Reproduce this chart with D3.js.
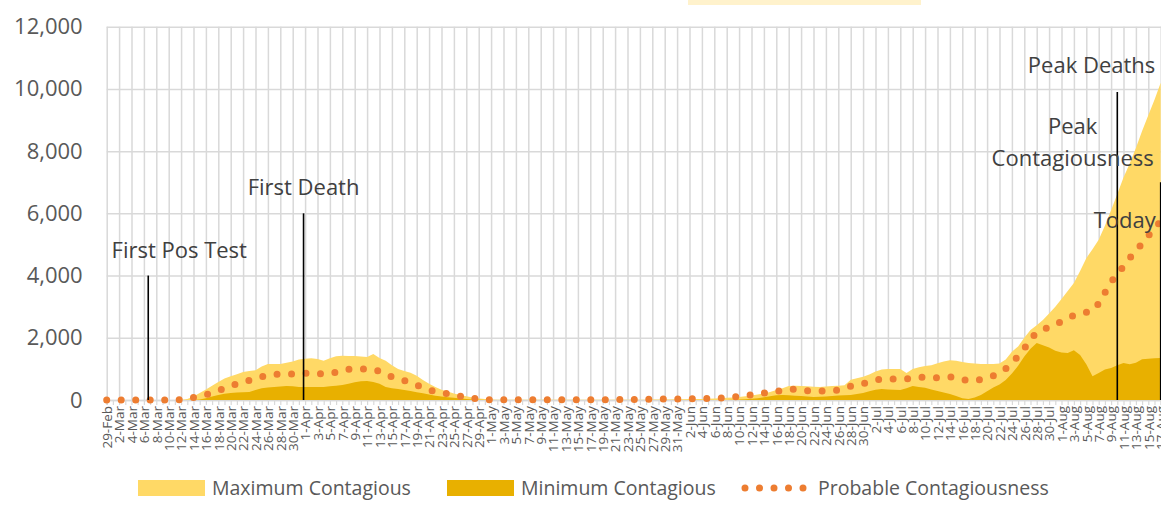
<!DOCTYPE html>
<html>
<head>
<meta charset="utf-8">
<script src="https://cdn.jsdelivr.net/npm/d3@7"></script>
<style>
  body { margin: 0; background: #fff; overflow: hidden; }
  svg text { font-family: "Segoe UI", "Open Sans", "Noto Sans", sans-serif; }
</style>
</head>
<body>
<div id="chart"></div>
<script>
// daily categories, 29-Feb to 17-Aug
const firstDay = new Date(2020, 1, 29);
const lastDay = new Date(2020, 7, 17);
const dates = d3.timeDay.range(firstDay, d3.timeDay.offset(lastDay, 1));

const maxContagious = [
  0, 0, 0, 0, 0, 0, 0, 0, 0, 0,
  0, 0, 0, 30, 110, 225, 340, 460, 580, 690,
  760, 830, 900, 930, 960, 1080, 1160, 1160, 1160, 1200,
  1240, 1300, 1330, 1345, 1320, 1260, 1340, 1410, 1420, 1415,
  1415, 1400, 1380, 1480, 1350, 1260, 1120, 1000, 930, 880,
  780, 640, 520, 420, 330, 270, 210, 160, 120, 80,
  50, 30, 15, 10, 10, 10, 10, 10, 10, 10,
  10, 10, 10, 10, 10, 10, 10, 10, 10, 10,
  10, 10, 10, 10, 10, 10, 10, 10, 15, 15,
  20, 20, 25, 25, 30, 30, 35, 40, 50, 60,
  70, 80, 100, 120, 145, 175, 210, 260, 320, 380,
  450, 455, 450, 440, 425, 420, 430, 450, 460, 475,
  650, 700, 750, 820, 920, 980, 1000, 1000, 1000, 870,
  1000, 1050, 1090, 1120, 1180, 1240, 1280, 1260, 1220, 1190,
  1170, 1160, 1155, 1160, 1170, 1300, 1550, 1720, 2000, 2250,
  2400, 2570, 2780, 3000, 3250, 3500, 3760, 4150, 4560, 4850,
  5150, 5600, 6100, 6620, 7150, 7600, 8100, 8650, 9150, 9650,
  10200
];

const minContagious = [
  0, 0, 0, 0, 0, 0, 0, 0, 0, 0,
  0, 0, 0, 0, 0, 20, 60, 110, 160, 200,
  225, 240, 250, 260, 320, 380, 400, 420, 430, 450,
  440, 420, 420, 420, 420, 420, 440, 460, 480, 520,
  570, 600, 610, 580, 520, 420, 380, 350, 320, 290,
  250, 220, 180, 140, 110, 90, 70, 50, 30, 15,
  5, 0, 0, 0, 0, 0, 0, 0, 0, 0,
  0, 0, 0, 0, 0, 0, 0, 0, 0, 0,
  0, 0, 0, 0, 0, 0, 0, 0, 0, 0,
  0, 0, 0, 0, 0, 0, 0, 0, 0, 0,
  0, 5, 15, 25, 40, 60, 90, 120, 150, 160,
  150, 140, 125, 110, 100, 105, 115, 130, 145, 155,
  160, 190, 225, 280, 330, 350, 340, 330, 320, 380,
  450, 420, 390, 340, 290, 240, 190, 130, 60, 30,
  80, 160, 280, 400, 500, 640, 850, 1100, 1400, 1650,
  1830, 1760, 1690, 1580, 1530, 1510, 1600, 1450, 1150, 760,
  870, 980, 1030, 1120, 1190, 1150, 1200, 1310, 1330, 1340,
  1350
];

const probable = [
  0, 0, 0, 0, 0, 0, 0, 0, 0, 0,
  0, 5, 15, 30, 80, 130, 170, 230, 300, 380,
  450, 515, 570, 630, 690, 750, 800, 820, 835, 835,
  835, 840, 860, 870, 850, 835, 860, 890, 940, 990,
  1000, 1000, 1000, 980, 920, 830, 740, 680, 620, 570,
  480, 400, 330, 270, 230, 200, 160, 120, 90, 60,
  30, 15, 10, 10, 10, 10, 10, 10, 10, 10,
  10, 10, 10, 10, 10, 10, 10, 10, 10, 10,
  10, 10, 10, 15, 15, 20, 20, 25, 25, 30,
  30, 30, 35, 35, 40, 40, 45, 50, 55, 65,
  80, 95, 120, 145, 170, 200, 220, 250, 280, 300,
  330, 350, 320, 295, 290, 290, 290, 300, 320, 380,
  440, 490, 530, 580, 640, 675, 680, 675, 670, 675,
  700, 730, 740, 720, 710, 720, 740, 720, 660, 620,
  630, 660, 720, 780, 880, 1000, 1200, 1400, 1650, 1950,
  2170, 2260, 2340, 2440, 2520, 2620, 2720, 2780, 2820, 2860,
  3100, 3450, 3800, 4030, 4300, 4560, 4800, 5030, 5280, 5520,
  5750
];

const yTicks = [0, 2000, 4000, 6000, 8000, 10000, 12000];

const seriesNames = ["Maximum Contagious", "Minimum Contagious", "Probable Contagiousness"];
const colors = ["#FFD966", "#E8B000", "#ED7D31"];

// event markers: label lines, day index, top of line
const eventLabels = [["First Pos Test"], ["First Death"], ["Peak Deaths"], ["Peak", "Contagiousness"]];
const eventDays = [6.7, 31.75, 163, 170];
const eventTops = [4000, 6000, 9900, 7000];

const width = 1161, height = 505;
const plotLeft = 106.7, plotTop = 26.7, plotBottom = 400;

const svg = d3.select("#chart").append("svg")
  .attr("width", width)
  .attr("height", height);

// clipped title box at top
svg.append("rect")
  .attr("x", 688).attr("y", -20)
  .attr("width", 233).attr("height", 25)
  .attr("fill", "#FFF2CC");

const x = d3.scaleLinear()
  .domain([0, dates.length - 1])
  .range([plotLeft, plotLeft + (dates.length - 1) * 6.2]);

const y = d3.scaleLinear()
  .domain([0, 12000])
  .range([plotBottom, plotTop]);

const allDays = d3.range(dates.length);
const evenDays = allDays.filter(d => d % 2 === 0);
const fmt = d3.timeFormat("%-d-%b");

// horizontal gridlines + y labels
const yAxis = svg.append("g")
  .attr("transform", "translate(" + plotLeft + ",0)")
  .call(d3.axisLeft(y)
    .tickValues(yTicks)
    .tickSize(-(width - plotLeft))
    .tickPadding(24)
    .tickFormat(d3.format(",")));
yAxis.select(".domain").remove();
yAxis.selectAll("line").attr("stroke", "#D9D9D9").attr("stroke-width", 1.5);
yAxis.selectAll("text")
  .attr("fill", "#595959")
  .style("font-size", "22px");

// vertical gridlines every two days
const xGrid = svg.append("g")
  .attr("transform", "translate(0," + plotBottom + ")")
  .call(d3.axisBottom(x)
    .tickValues(evenDays)
    .tickSize(-(plotBottom - plotTop))
    .tickFormat(""));
xGrid.select(".domain").remove();
xGrid.selectAll("line").attr("stroke", "#D9D9D9").attr("stroke-width", 1.5);

// daily tick marks
const xTicks = svg.append("g")
  .attr("transform", "translate(0," + plotBottom + ")")
  .call(d3.axisBottom(x)
    .tickValues(allDays)
    .tickSize(5)
    .tickFormat(""));
xTicks.select(".domain").attr("stroke", "#D9D9D9").attr("stroke-width", 1.5);
xTicks.selectAll("line").attr("stroke", "#D9D9D9").attr("stroke-width", 1.2);

// areas
const area = vals => d3.area()
  .x((d, i) => x(i))
  .y0(y(0))
  .y1(d => y(d))(vals);

svg.append("path")
  .attr("d", area(maxContagious))
  .attr("fill", colors[0]);

svg.append("path")
  .attr("d", area(minContagious))
  .attr("fill", colors[1]);

// probable contagiousness as round-dot line
const line = d3.line()
  .x((d, i) => x(i))
  .y(d => y(d));

svg.append("path")
  .attr("d", line(probable))
  .attr("fill", "none")
  .attr("stroke", colors[2])
  .attr("stroke-width", 7)
  .attr("stroke-linecap", "round")
  .attr("stroke-dasharray", "0 14.5");

// x labels
const xLabels = svg.append("g")
  .attr("transform", "translate(0," + plotBottom + ")")
  .call(d3.axisBottom(x)
    .tickValues(evenDays)
    .tickSize(0)
    .tickFormat(i => fmt(dates[i])));
xLabels.select(".domain").remove();
xLabels.selectAll("text")
  .attr("transform", "rotate(-90)")
  .attr("text-anchor", "end")
  .attr("x", -6)
  .attr("y", 0)
  .attr("dy", "0.35em")
  .attr("fill", "#595959")
  .style("font-size", "13.5px");

// event lines
svg.selectAll(".event-line")
  .data(eventDays)
  .enter()
  .append("line")
  .attr("class", "event-line")
  .attr("x1", d => x(d))
  .attr("x2", d => x(d))
  .attr("y1", (d, i) => y(eventTops[i]))
  .attr("y2", y(0))
  .attr("stroke", "#000")
  .attr("stroke-width", 1.6);

// event labels (placement tuned per label)
const labelPlace = [
  {dx: 31, dy: -18, anchor: "middle"},
  {dx: 0, dy: -18, anchor: "middle"},
  {dx: 38, dy: -19, anchor: "end"},
  {dx: -88, dy: -48, anchor: "middle"}
];
eventLabels.forEach((lines, i) => {
  const p = labelPlace[i];
  const t = svg.append("text")
    .attr("x", x(eventDays[i]) + p.dx)
    .attr("y", y(eventTops[i]) + p.dy)
    .attr("text-anchor", p.anchor)
    .attr("fill", "#404040")
    .style("font-size", "22px");
  lines.forEach((s, j) => {
    t.append("tspan")
      .attr("x", x(eventDays[i]) + p.dx)
      .attr("dy", j === 0 ? 0 : 31.5)
      .text(s);
  });
});

svg.append("text")
  .attr("x", x(170) - 5)
  .attr("y", 228)
  .attr("text-anchor", "end")
  .attr("fill", "#404040")
  .style("font-size", "22px")
  .text("Today");

// legend
const legendX = [138, 447, 740];
const legend = svg.selectAll(".legend")
  .data(seriesNames)
  .enter()
  .append("g")
  .attr("class", "legend")
  .attr("transform", (d, i) => "translate(" + legendX[i] + ",488)");

legend.each(function(d, i) {
  const g = d3.select(this);
  if (i < 2) {
    g.append("rect")
      .attr("x", 0).attr("y", -8)
      .attr("width", 67).attr("height", 16)
      .attr("fill", colors[i]);
  } else {
    g.append("path")
      .attr("d", "M5,0H65")
      .attr("stroke", colors[i])
      .attr("stroke-width", 7)
      .attr("stroke-linecap", "round")
      .attr("stroke-dasharray", "0 14.5");
  }
  g.append("text")
    .attr("x", i < 2 ? 74 : 78)
    .attr("y", 0)
    .attr("dy", "0.35em")
    .attr("fill", "#595959")
    .style("font-size", "19.5px")
    .text(d);
});
</script>
</body>
</html>
